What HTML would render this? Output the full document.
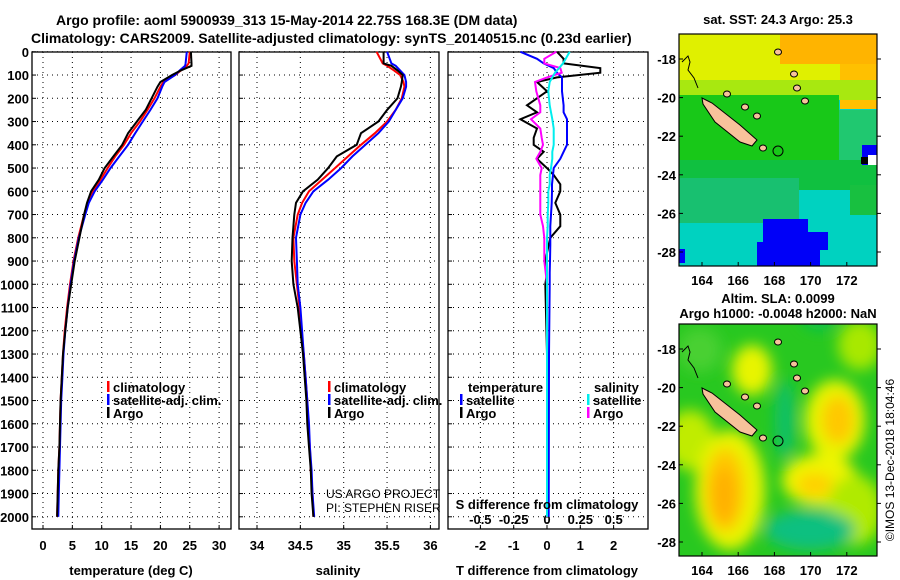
<!DOCTYPE html>
<html><head><meta charset="utf-8"><style>
html,body{margin:0;padding:0;background:#fff;}
svg{display:block;font-family:"Liberation Sans",Arial,sans-serif;}
.b{font-weight:bold;font-size:13px;}
</style></head><body>
<svg id="fig" width="900" height="580" viewBox="0 0 900 580" xmlns="http://www.w3.org/2000/svg">
<defs>
<filter id="blur" x="-50%" y="-50%" width="200%" height="200%"><feGaussianBlur stdDeviation="7"/></filter>
<clipPath id="m1c"><rect x="679" y="34" width="198" height="232"/></clipPath>
<clipPath id="m2c"><rect x="679" y="324" width="198" height="232"/></clipPath>
</defs>
<text class="b" x="56" y="25" style="font-size:14px">Argo profile: aoml 5900939_313 15-May-2014 22.75S 168.3E (DM data)</text>
<text class="b" x="31" y="43" style="font-size:14px">Climatology: CARS2009. Satellite-adjusted climatology: synTS_20140515.nc (0.23d earlier)</text>
<g id="panels"></g>
<g id="maps"></g>
<text x="894" y="460" transform="rotate(-90 894 460)" text-anchor="middle" style="font-size:12px">©IMOS 13-Dec-2018 18:04:46</text>
</svg>
<script>
const depths=[0,50,60,80,100,130,150,200,250,300,350,400,450,500,550,600,650,700,800,900,1000,1100,1200,1300,1400,1500,1600,1700,1800,1900,2000];
const tempArgo=[25.2,25.3,25.3,23.5,22,20,19.5,18.5,17.5,16,14.5,13.5,12,10.5,9.5,8.2,7.5,7,6.2,5.4,4.8,4.2,3.8,3.4,3.2,3.0,2.9,2.8,2.6,2.5,2.4];
const tempClim=[25.0,24.8,24.5,23.5,22.5,20.5,20,19,17.8,16.5,15,13.8,12.3,11,9.8,8.5,7.6,7,6,5.2,4.6,4.1,3.7,3.4,3.2,3.0,2.9,2.8,2.6,2.5,2.4];
const tempSat=[24.5,24.3,24.2,23.3,22.5,20.7,20.3,19.5,18.3,17,15.7,14.5,13,11.5,10.2,8.8,7.8,7.2,6.1,5.3,4.7,4.2,3.8,3.5,3.3,3.1,3.0,2.9,2.8,2.7,2.6];
const salArgo=[35.46,35.46,35.55,35.62,35.68,35.67,35.66,35.62,35.5,35.4,35.2,35.15,34.92,34.82,34.7,34.53,34.45,34.43,34.41,34.4,34.42,34.47,34.5,34.53,34.55,34.57,34.58,34.6,34.62,34.63,34.65];
const salClim=[35.38,35.45,35.5,35.58,35.65,35.69,35.7,35.67,35.6,35.5,35.36,35.2,35.05,34.9,34.75,34.6,34.52,34.47,34.42,34.43,34.46,34.49,34.51,34.54,34.56,34.58,34.59,34.61,34.62,34.64,34.65];
const salSat=[35.5,35.55,35.6,35.65,35.7,35.72,35.72,35.68,35.6,35.52,35.4,35.25,35.1,34.97,34.82,34.65,34.56,34.5,34.45,34.46,34.47,34.5,34.52,34.54,34.56,34.58,34.6,34.61,34.63,34.64,34.66];
const dDepths=[0,30,50,70,90,110,130,170,230,260,290,330,370,400,430,460,500,530,570,600,650,700,750,800,830,900,950,1000,1300,2000];
const tDiffArgo=[0.3,0.5,0.5,1.6,1.6,0.3,-0.3,0,-0.6,-0.3,-0.8,-0.3,-0.4,-0.4,-0.1,-0.3,0,0.2,0.4,0.4,0.25,0.4,0.4,0.1,0.05,-0.05,0,-0.05,0,0];
const tDiffSat=[-0.8,-0.3,-0.1,0.2,0.3,0.45,0.45,0.45,0.5,0.5,0.6,0.6,0.6,0.6,0.5,0.4,0.2,0.18,0.15,0.15,0.14,0.12,0.1,0.1,0.1,0.09,0.08,0.08,0.06,0.05];
const sDiffSat=[0.17,0.14,0.12,0.09,0.06,0.04,0.02,0.01,0.02,0.03,0.04,0.05,0.05,0.05,0.04,0.04,0.03,0.02,0.02,0.01,0.01,0.005,0.005,0,0,0,0,0,0,0];
const sDiffArgo=[0.07,-0.02,-0.02,0.1,0.11,0,-0.09,-0.08,-0.05,-0.05,-0.12,-0.05,-0.04,-0.03,-0.05,-0.08,-0.04,-0.05,-0.05,-0.05,-0.05,-0.05,-0.03,-0.02,-0.02,-0.02,-0.01,0,0,0];
const depthTicks=[0,100,200,300,400,500,600,700,800,900,1000,1100,1200,1300,1400,1500,1600,1700,1800,1900,2000];
const tempTicks=[0,5,10,15,20,25,30];
const salTicks=[34,34.5,35,35.5,36];
const tDiffTicks=[-2,-1,0,1,2];
const sDiffTicks=[-0.5,-0.25,0,0.25,0.5];
const sDiffTickLabels=["-0.5","-0.25","0","0.25","0.5"];

const NS="http://www.w3.org/2000/svg";
const G=document.getElementById('panels');
function mk(tag,at,parent){const e=document.createElementNS(NS,tag);for(const k in at)e.setAttribute(k,at[k]);(parent||G).appendChild(e);return e;}
const yD=d=>51.8+d*0.2325;
const xT=t=>43+t*5.87;
const xS=s=>257+(s-34)*86.7;
const xTd=t=>547+t*33.3;
const xSd=s=>547+s*133.3;
const PANELS=[[32,231],[239,439],[448,648]];
const TOP=52,BOT=529;
PANELS.forEach((p,i)=>{
  depthTicks.forEach(d=>{
    const l=mk('line',{x1:p[0],x2:p[1],y1:yD(d),y2:yD(d),stroke:'#000','stroke-width':1,'stroke-dasharray':'1,4'});
    
    
    const t1=mk('line',{x1:p[0],x2:p[0]+4,y1:yD(d),y2:yD(d),stroke:'#000'});
    
    
  });
});
depthTicks.forEach(d=>{
  const t=mk('text',{x:29,y:yD(d)+5,'text-anchor':'end',class:'b'});
  t.textContent=d;
  
  
});
function vgrid(vals,fx,lbls,ly,name){
  vals.forEach((v,i)=>{
    const l=mk('line',{x1:fx(v),x2:fx(v),y1:TOP,y2:BOT,stroke:'#000','stroke-dasharray':'1,4'});
    
    
    const tk=mk('line',{x1:fx(v),x2:fx(v),y1:BOT,y2:BOT-4,stroke:'#000'});
    
    
    const t=mk('text',{x:fx(v),y:ly,'text-anchor':'middle',class:'b'});
    t.textContent=lbls?lbls[i]:v;
    
    
  });
}
vgrid(tempTicks,xT,null,550,'temperature-tick-label');
vgrid(salTicks,xS,null,550,'salinity-tick-label');
vgrid(tDiffTicks,xTd,null,550,'t-diff-tick-label');
sDiffTicks.forEach((v,i)=>{
  const t=mk('text',{x:xSd(v),y:524,'text-anchor':'middle',class:'b'});
  t.textContent=sDiffTickLabels[i];
  
  
});
PANELS.forEach((p,i)=>{
  const r=mk('rect',{x:p[0],y:TOP,width:p[1]-p[0],height:BOT-TOP,fill:'none',stroke:'#000','stroke-width':1.3});
  
  
});
function line(ds,vals,fx,col,name,w){
  const pts=ds.map((d,i)=>fx(vals[i]).toFixed(1)+','+yD(d).toFixed(1)).join(' ');
  const pl=mk('polyline',{points:pts,fill:'none',stroke:col,'stroke-width':w||2});
  
  
}
line(depths,tempClim,xT,'#f00','temp-climatology-line');
line(depths,tempSat,xT,'#00f','temp-satellite-line');
line(depths,tempArgo,xT,'#000','temp-argo-line');
line(depths,salClim,xS,'#f00','sal-climatology-line');
line(depths,salSat,xS,'#00f','sal-satellite-line');
line(depths,salArgo,xS,'#000','sal-argo-line');
line(dDepths,tDiffArgo,xTd,'#000','tdiff-argo-line');
line(dDepths,tDiffSat,xTd,'#00f','tdiff-satellite-line');
line(dDepths,sDiffArgo,xSd,'#f0f','sdiff-argo-line');
line(dDepths,sDiffSat,xSd,'#0ee','sdiff-satellite-line');
function txt(x,y,s,name,cls,anchor){const t=mk('text',{x:x,y:y,class:cls||'b','text-anchor':anchor||'start'});t.textContent=s;return t;}
function leg(x,y,col,s,name){
  const r=mk('rect',{x:x,y:y-11,width:2.5,height:11,fill:col});
  
  
  txt(x+6,y,s,name+'-label');
}
leg(107,392,'#f00','climatology','legend-temp-climatology');
leg(107,405,'#00f','satellite-adj. clim.','legend-temp-satellite');
leg(107,418,'#000','Argo','legend-temp-argo');
leg(328,392,'#f00','climatology','legend-sal-climatology');
leg(328,405,'#00f','satellite-adj. clim.','legend-sal-satellite');
leg(328,418,'#000','Argo','legend-sal-argo');
txt(468,392,'temperature','legend-temperature-heading');
leg(460,405,'#00f','satellite','legend-tdiff-satellite');
leg(460,418,'#000','Argo','legend-tdiff-argo');
txt(594,392,'salinity','legend-salinity-heading');
leg(587,405,'#0ee','satellite','legend-sdiff-satellite');
leg(587,418,'#f0f','Argo','legend-sdiff-argo');
txt(131,575,'temperature (deg C)','temperature-axis-title',null,'middle');
txt(338,575,'salinity','salinity-axis-title',null,'middle');
txt(547,575,'T difference from climatology','t-diff-axis-title',null,'middle');
txt(547,509,'S difference from climatology','s-diff-axis-title',null,'middle');
const u1=txt(326,498,'US ARGO PROJECT','credit-project','n');u1.setAttribute('style','font-size:12px');
const u2=txt(326,512,'PI: STEPHEN RISER','credit-pi','n');u2.setAttribute('style','font-size:12px');

// ---- maps ----
const M=document.getElementById('maps');
function mm(tag,at,parent,name){const e=document.createElementNS(NS,tag);for(const k in at)e.setAttribute(k,at[k]);(parent||M).appendChild(e);if(name){}return e;}
const lonTicks=[164,166,168,170,172];
const latTicks=[-18,-20,-22,-24,-26,-28];
const xL=l=>702+(l-164)*18.1;
function drawMapAxes(y0,name){
  const yL=la=>y0+25+(-la-18)*19.3;
  lonTicks.forEach(l=>{
    mm('line',{x1:xL(l),x2:xL(l),y1:y0+232,y2:y0+228,stroke:'#000'},M,'map-lon-tick');
    const t=mm('text',{x:xL(l),y:y0+251,'text-anchor':'middle',class:'b'},M,name+'-lon-label');t.textContent=l;
  });
  latTicks.forEach(la=>{
    mm('line',{x1:679,x2:683,y1:yL(la),y2:yL(la),stroke:'#000'},M,'map-lat-tick');
    mm('line',{x1:877,x2:881,y1:yL(la),y2:yL(la),stroke:'#000'},M,'map-lat-tick-right');
    const t=mm('text',{x:676,y:yL(la)+5,'text-anchor':'end',class:'b'},M,name+'-lat-label');t.textContent=la;
  });
  mm('rect',{x:679,y:y0,width:198,height:232,fill:'none',stroke:'#000','stroke-width':1.2},M,name+'-frame');
  return yL;
}
function island(g,dy,name){
  mm('polygon',{points:`702,${98+dy} 712,${103+dy} 740,${125+dy} 757,${140+dy} 752,${146+dy} 740,${142+dy} 715,${122+dy} 703,${104+dy}`,fill:'#f7c29b',stroke:'#000','stroke-width':1},g,name+'-new-caledonia');
  [[727,94],[745,107],[757,116],[778,52],[794,74],[797,88],[805,101],[763,148]].forEach(p=>{
    mm('ellipse',{cx:p[0],cy:p[1]+dy,rx:3.5,ry:3,fill:'#f7c29b',stroke:'#000','stroke-width':1},g,name+'-island');
  });
  mm('polyline',{points:`682,${62+dy} 688,${56+dy} 690,${62+dy} 688,${70+dy} 694,${78+dy} 698,${88+dy}`,fill:'none',stroke:'#000','stroke-width':1},g,name+'-coastline');
  mm('circle',{cx:778,cy:151+dy,r:5,fill:'none',stroke:'#000','stroke-width':1},g,name+'-argo-position');
}
const g1=mm('g',{'clip-path':'url(#m1c)'},M,'sst-map');
mm('rect',{x:679,y:34,width:198,height:232,fill:'#00d2c0'},g1);
mm('rect',{x:679,y:34,width:198,height:60,fill:'#e0f000'},g1);
mm('rect',{x:780,y:34,width:97,height:30,fill:'#ffb400'},g1);
mm('rect',{x:840,y:64,width:37,height:45,fill:'#ffc000'},g1);
mm('rect',{x:679,y:80,width:198,height:20,fill:'#a8e810'},g1);
mm('rect',{x:679,y:95,width:160,height:85,fill:'#18c818'},g1);
mm('rect',{x:839,y:110,width:38,height:70,fill:'#20c870'},g1);
mm('rect',{x:679,y:160,width:198,height:30,fill:'#10c040'},g1);
mm('rect',{x:679,y:178,width:120,height:45,fill:'#18c070'},g1);
mm('rect',{x:850,y:185,width:27,height:30,fill:'#18c040'},g1);
mm('polygon',{points:'757,266 757,242 763,242 763,219 808,219 808,232 828,232 828,250 820,250 820,266',fill:'#0000f8'},g1);
mm('rect',{x:679,y:249,width:6,height:14,fill:'#0000f8'},g1);
mm('rect',{x:862,y:145,width:15,height:20,fill:'#0000f8'},g1);
mm('rect',{x:868,y:155,width:9,height:10,fill:'#fff'},g1);
mm('rect',{x:861,y:157,width:7,height:7,fill:'#000'},g1);
island(g1,0,'sst-map');
mm('text',{x:778,y:24,'text-anchor':'middle',class:'b'},M,'sst-map-title').textContent='sat. SST: 24.3 Argo: 25.3';
drawMapAxes(34,'sst-map');
const g2=mm('g',{'clip-path':'url(#m2c)'},M,'sla-map');
mm('rect',{x:679,y:324,width:198,height:232,fill:'#28c820'},g2);
const bl=mm('g',{filter:'url(#blur)'},g2);
[[690,440,25,30,'#c0ec00'],[730,490,35,60,'#e8f400'],[725,490,20,42,'#ffc800'],[724,495,12,28,'#ffb000'],[752,370,20,25,'#e8f400'],[835,420,30,40,'#e8f400'],[838,420,16,24,'#ffc800'],[820,480,38,26,'#f0f400'],[815,485,18,12,'#ffd000'],[855,510,28,35,'#b0ea00'],[810,530,45,20,'#10c080'],[785,420,10,40,'#10c068'],[860,345,22,25,'#a8e800'],[700,350,22,22,'#48d030'],[820,310,20,20,'#10c050']].forEach(b=>{
  mm('ellipse',{cx:b[0],cy:b[1],rx:b[2],ry:b[3],fill:b[4]},bl);
});
island(g2,290,'sla-map');
mm('text',{x:778,y:303,'text-anchor':'middle',class:'b'},M,'sla-map-title-1').textContent='Altim. SLA: 0.0099';
mm('text',{x:778,y:318,'text-anchor':'middle',class:'b'},M,'sla-map-title-2').textContent='Argo h1000: -0.0048 h2000: NaN';
drawMapAxes(324,'sla-map');
</script>
</body></html>
